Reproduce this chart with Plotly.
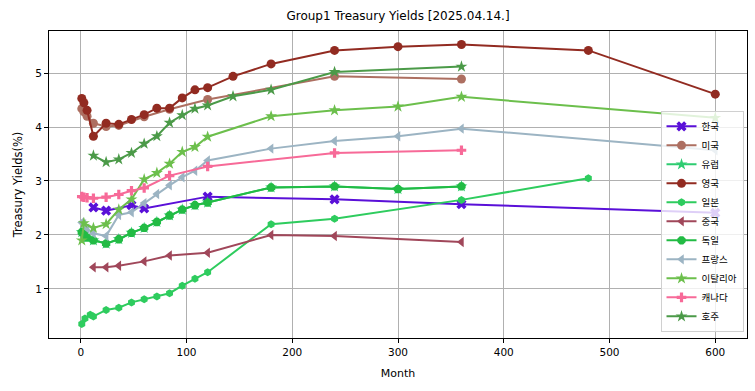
import plotly.graph_objects as go

# ---- data ----
kr_m = [12, 24, 48, 60, 120, 240, 360, 600]
kr_y = [2.51, 2.45, 2.55, 2.49, 2.71, 2.66, 2.57, 2.41]

us_m = [1, 3, 6, 12, 24, 36, 60, 84, 120, 240, 360]
us_y = [4.34, 4.28, 4.20, 4.07, 4.01, 4.03, 4.19, 4.33, 4.51, 4.94, 4.89]

de_m = [1, 3, 6, 12, 24, 36, 48, 60, 72, 84, 96, 108, 120, 180, 240, 300, 360]
de_y = [2.05, 2.03, 1.95, 1.90, 1.84, 1.92, 2.04, 2.13, 2.24, 2.36, 2.47, 2.55, 2.60, 2.88, 2.90, 2.85, 2.90]

eu_m = list(de_m)
eu_y = list(de_y)

uk_m = [1, 3, 6, 12, 24, 36, 48, 60, 72, 84, 96, 108, 120, 144, 180, 240, 300, 360, 480, 600]
uk_y = [4.53, 4.45, 4.31, 3.83, 4.07, 4.05, 4.14, 4.23, 4.35, 4.35, 4.54, 4.69, 4.73, 4.94, 5.17, 5.42, 5.49, 5.53, 5.42, 4.61]

jp_m = [1, 4, 9, 12, 24, 36, 48, 60, 72, 84, 96, 108, 120, 180, 240, 360, 480]
jp_y = [0.35, 0.45, 0.52, 0.49, 0.61, 0.65, 0.75, 0.81, 0.86, 0.92, 1.06, 1.19, 1.31, 2.20, 2.30, 2.65, 3.05]

cn_m = [12, 24, 36, 60, 84, 120, 180, 240, 360]
cn_y = [1.40, 1.40, 1.43, 1.51, 1.62, 1.67, 2.00, 1.98, 1.87]

fr_m = [1, 3, 6, 12, 24, 36, 48, 60, 72, 84, 96, 108, 120, 180, 240, 300, 360, 600]
fr_y = [2.23, 2.20, 2.12, 2.03, 1.98, 2.37, 2.42, 2.59, 2.76, 2.92, 3.07, 3.19, 3.38, 3.60, 3.74, 3.83, 3.97, 3.57]

it_m = [1, 3, 12, 24, 36, 48, 60, 72, 84, 96, 108, 120, 180, 240, 300, 360, 600]
it_y = [1.90, 2.22, 2.13, 2.20, 2.47, 2.66, 3.03, 3.15, 3.32, 3.54, 3.63, 3.82, 4.20, 4.31, 4.38, 4.56, 4.17]

ca_m = [1, 3, 6, 12, 24, 36, 48, 60, 84, 120, 240, 360]
ca_y = [2.71, 2.70, 2.69, 2.68, 2.70, 2.75, 2.82, 2.87, 3.10, 3.27, 3.52, 3.57]

au_m = [12, 24, 36, 48, 60, 72, 84, 96, 108, 120, 144, 180, 240, 360]
au_y = [3.47, 3.35, 3.40, 3.52, 3.69, 3.83, 4.08, 4.22, 4.34, 4.40, 4.57, 4.69, 5.02, 5.12]

series = [
    ("한국", kr_m, kr_y, "#5a10d8", "x", 9),
    ("미국", us_m, us_y, "#ad6f61", "circle", 9),
    ("유럽", eu_m, eu_y, "#2ecc71", "star", 9),
    ("영국", uk_m, uk_y, "#922b21", "circle", 9),
    ("일본", jp_m, jp_y, "#2ecc5e", "hexagon", 8),
    ("중국", cn_m, cn_y, "#a0475a", "triangle-left", 9),
    ("독일", de_m, de_y, "#22bb44", "octagon", 9),
    ("프랑스", fr_m, fr_y, "#9cb4c3", "triangle-left", 9),
    ("이탈리아", it_m, it_y, "#6cbf4c", "star", 9),
    ("캐나다", ca_m, ca_y, "#f76a98", "cross", 8),
    ("호주", au_m, au_y, "#4b9a48", "star", 9),
]

fig = go.Figure()
for name, m, y, col, sym, sz in series:
    fig.add_trace(go.Scatter(
        x=m, y=y, name=name, mode="lines+markers",
        line=dict(color=col, width=2),
        marker=dict(color=col, symbol=sym, size=sz, line=dict(width=0)),
    ))

axis_common = dict(
    showgrid=True, gridcolor="#b0b0b0", gridwidth=1,
    showline=True, linecolor="black", linewidth=1, mirror=True,
    ticks="outside", ticklen=4, tickcolor="black",
    zeroline=False, automargin=False,
    tickfont=dict(family="DejaVu Sans", size=10.5, color="black"),
)

fig.update_layout(
    width=755, height=391,
    margin=dict(l=49, r=8, t=31, b=53),
    paper_bgcolor="white", plot_bgcolor="white",
    title=dict(text="Group1 Treasury Yields [2025.04.14.]", x=0.5, xref="paper",
               xanchor="center", y=1 - 16 / 391, yref="container", yanchor="middle",
               font=dict(family="DejaVu Sans", size=12, color="black")),
    xaxis=dict(range=[-30, 630], tickvals=[0, 100, 200, 300, 400, 500, 600],
               title=dict(text="Month", standoff=12,
                          font=dict(family="DejaVu Sans", size=11, color="black")),
               **axis_common),
    yaxis=dict(range=[0.09, 5.78], tickvals=[1, 2, 3, 4, 5],
               title=dict(text="Treasury Yields(%)", standoff=10,
                          font=dict(family="DejaVu Sans", size=11.5, color="black")),
               **axis_common),
    legend=dict(x=0.995, xanchor="right", y=0.02, yanchor="bottom",
                bgcolor="rgba(255,255,255,0.8)", bordercolor="#d0d0d0", borderwidth=1,
                font=dict(family="Noto Sans CJK KR", size=9.5, color="black"),
                itemwidth=30, tracegroupgap=0),
    showlegend=True,
)

fig.write_html("out.html", config={"displayModeBar": False},
               post_script="document.body.style.margin='0';")
